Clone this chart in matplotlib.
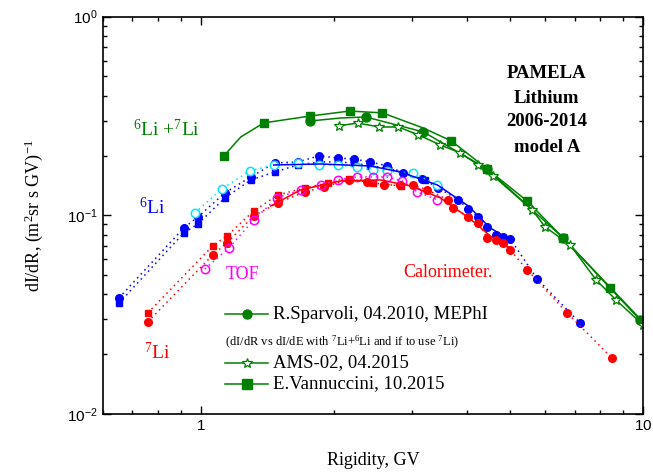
import numpy as np
import matplotlib.pyplot as plt
from matplotlib.ticker import FixedLocator, LogLocator, NullFormatter

plt.rcParams['font.family'] = 'Liberation Serif'
plt.rcParams['mathtext.fontset'] = 'custom'
plt.rcParams['mathtext.rm'] = 'Liberation Serif'
plt.rcParams['mathtext.it'] = 'Liberation Serif:italic'
plt.rcParams['mathtext.sf'] = 'Liberation Sans'

# ---- total Li (green) ----
# E.Vannuccini, 10.2015 (squares + model curve)
van_R = [1.127, 1.388, 1.762, 2.169, 2.575, 3.686, 4.446, 5.471, 6.598, 8.424]
van_F = [0.199, 0.292, 0.316, 0.335, 0.328, 0.237, 0.171, 0.118, 0.077, 0.0431]
van_line_R = [1.127, 1.231, 1.388, 1.762, 2.169, 2.575, 3.187, 3.686, 4.446, 5.471, 6.598, 8.424, 10.0]
van_line_F = [0.199, 0.248, 0.292, 0.316, 0.335, 0.328, 0.275, 0.237, 0.171, 0.118, 0.077, 0.0431, 0.0287]

# R.Sparvoli, 04.2010 (filled circles)
spa_R = [1.762, 2.358, 3.187, 4.446, 6.598, 9.845]
spa_F = [0.2985, 0.313, 0.263, 0.171, 0.077, 0.0298]
spa_line_R = [1.762, 2.071, 2.358, 3.187, 4.446, 6.598, 10.0]
spa_line_F = [0.2985, 0.309, 0.313, 0.263, 0.171, 0.077, 0.0291]

# AMS-02, 04.2015 (open stars)
ams_R = [2.049, 2.262, 2.535, 2.799, 3.106, 3.482, 3.863, 4.242, 4.587,
         5.616, 6.008, 6.842, 7.834, 8.690, 10.0]
ams_F = [0.2818, 0.2917, 0.2785, 0.2785, 0.254, 0.226, 0.2061, 0.1793, 0.1579,
         0.1065, 0.0874, 0.0710, 0.0473, 0.0375, 0.0281]

# ---- 6Li (blue) ----
li6_circ_R = [0.653, 0.915, 0.985, 1.133, 1.297, 1.469, 1.656, 1.847, 2.038, 2.215,
              2.419, 2.643, 2.873, 3.171, 3.446, 3.823, 4.027, 4.242, 4.446, 4.659,
              4.831, 5.010, 5.764, 7.207]
li6_circ_F = [0.0384, 0.0864, 0.0982, 0.1296, 0.1561, 0.1835, 0.1857, 0.199, 0.1945, 0.1922,
              0.1857, 0.1772, 0.1634, 0.1525, 0.1374, 0.1196, 0.1077, 0.0982, 0.0874, 0.0797,
              0.0779, 0.0761, 0.0478, 0.0287]
li6_sq_R = [0.653, 0.915, 0.985, 1.133, 1.297, 1.469, 1.656, 1.847, 2.038, 2.215,
            2.419, 2.643, 3.221]
li6_sq_F = [0.0362, 0.0815, 0.0905, 0.1224, 0.1507, 0.1653, 0.1793, 0.1857, 0.1857, 0.1835,
            0.1772, 0.1732, 0.1507]
li6_tof_R = [0.969, 1.115, 1.290, 1.462, 1.656, 1.847, 2.038, 2.250, 2.445, 2.630, 3.025, 3.428]
li6_tof_F = [0.1028, 0.1358, 0.1673, 0.1793, 0.1835, 0.1793, 0.1793, 0.1752, 0.1692, 0.1673,
             0.1634, 0.1422]
li6_line_R = [1.462, 1.866, 2.419, 2.828, 3.428, 4.027, 4.515, 5.010]
li6_line_F = [0.1793, 0.1814, 0.1772, 0.1653, 0.1422, 0.1115, 0.0864, 0.0752]

# ---- 7Li (red) ----
li7_circ_R = [0.759, 1.064, 1.145, 1.317, 1.492, 1.717, 1.895, 2.158, 2.382, 2.602,
              2.814, 3.025, 3.254, 3.629, 3.725, 4.027, 4.242, 4.446, 4.659, 4.831, 5.010,
              5.471, 6.736, 8.511]
li7_circ_F = [0.0291, 0.0632, 0.0726, 0.0993, 0.1155, 0.1311, 0.139, 0.1507, 0.1473, 0.1422,
              0.1422, 0.1422, 0.1342, 0.1196, 0.109, 0.0982, 0.0916, 0.0770, 0.0752, 0.0726,
              0.067, 0.0531, 0.0323, 0.0191]
li7_sq_R = [0.759, 1.064, 1.145, 1.317, 1.492, 1.717, 1.935, 2.158, 2.445, 2.830]
li7_sq_F = [0.0323, 0.0702, 0.0787, 0.1052, 0.1266, 0.1374, 0.1456, 0.1525, 0.1456, 0.1406]
li7_tof_R = [1.021, 1.157, 1.317, 1.485, 1.681, 1.866, 2.038, 2.250, 2.445, 2.630, 2.858,
             3.089, 3.428]
li7_tof_F = [0.0537, 0.0685, 0.0948, 0.1224, 0.1342, 0.1422, 0.1507, 0.1561, 0.1561, 0.1561,
             0.149, 0.1311, 0.1196]
li7_line_R = [1.439, 1.681, 2.070, 2.549, 2.979, 3.482, 4.069, 4.515, 5.010]
li7_line_F = [0.1115, 0.1342, 0.149, 0.1507, 0.1406, 0.1224, 0.0959, 0.0787, 0.0685]

GREEN = '#008000'
BLUE = '#0000ff'
CYAN = '#00e5ff'
RED = '#ff0000'
MAGENTA = '#ff00ff'
DOT = (0, (1, 2.5))

fig = plt.figure(figsize=(6.53, 4.73), dpi=100)
ax = fig.add_axes([0.1573, 0.1247, 0.8274, 0.84])

# dotted data series
ax.plot(li6_sq_R, li6_sq_F, ls=DOT, color=BLUE, lw=1.1, marker='s', ms=4.2, mec=BLUE, mfc=BLUE)
ax.plot(li6_circ_R, li6_circ_F, ls=DOT, color=BLUE, lw=1.1, marker='o', ms=5.5, mec=BLUE, mfc=BLUE)
ax.plot(li6_tof_R, li6_tof_F, ls=DOT, color=CYAN, lw=1.1, marker='o', ms=6, mec=CYAN, mfc='white', mew=1.1)
ax.plot(li7_sq_R, li7_sq_F, ls=DOT, color=RED, lw=1.1, marker='s', ms=4.2, mec=RED, mfc=RED)
ax.plot(li7_circ_R, li7_circ_F, ls=DOT, color=RED, lw=1.1, marker='o', ms=5.5, mec=RED, mfc=RED)
ax.plot(li7_tof_R, li7_tof_F, ls=DOT, color=MAGENTA, lw=1.1, marker='o', ms=6, mec=MAGENTA, mfc='none', mew=1.1)

# model curves
ax.plot(li6_line_R, li6_line_F, '-', color=BLUE, lw=1.1)
ax.plot(li7_line_R, li7_line_F, '-', color=RED, lw=1.1)

# total Li
ax.plot(van_line_R, van_line_F, '-', color=GREEN, lw=1.1)
ax.plot(van_R, van_F, 's', color=GREEN, ms=5.8)
ax.plot(spa_line_R, spa_line_F, '-', color=GREEN, lw=1.1)
ax.plot(spa_R, spa_F, 'o', color=GREEN, ms=6.5)
ax.plot(ams_R, ams_F, '-', color=GREEN, lw=1.1, marker='*', ms=7, mfc='white', mec=GREEN, mew=0.9)

ax.set_xscale('log')
ax.set_yscale('log')
ax.set_xlim(0.6, 10)
ax.set_ylim(0.01, 1)

ax.xaxis.set_major_locator(FixedLocator([1, 10]))
ax.set_xticklabels([r'$\mathsf{1}$', r'$\mathsf{10}$'])
ax.xaxis.set_minor_locator(LogLocator(base=10, subs=np.arange(2, 10)))
ax.xaxis.set_minor_formatter(NullFormatter())
ax.yaxis.set_major_locator(FixedLocator([0.01, 0.1, 1]))
ax.set_yticklabels([r'$\mathsf{10^{-2}}$', r'$\mathsf{10^{-1}}$', r'$\mathsf{10^{0}}$'])
ax.yaxis.set_minor_locator(LogLocator(base=10, subs=np.arange(2, 10)))
ax.yaxis.set_minor_formatter(NullFormatter())

ax.tick_params(which='both', direction='in', top=True, right=True, width=1.0, labelsize=11)
ax.tick_params(which='major', length=6)
ax.tick_params(which='minor', length=3)
for s in ax.spines.values():
    s.set_linewidth(1.2)

ax.set_xlabel('Rigidity, GV', fontsize=13, labelpad=14)
ax.set_ylabel(r'dI/dR, (m$^2$sr s GV)$^{-1}$', fontsize=13, labelpad=16)

# labels on the plot
ax.text(0.119, 0.715, r'$^6$Li +$^7$Li', color=GREEN, fontsize=14, ha='center', va='center', transform=ax.transAxes)
ax.text(0.091, 0.521, r'$^6$Li', color=BLUE, fontsize=14, ha='center', va='center', transform=ax.transAxes)
ax.text(0.258, 0.35, 'TOF', color=MAGENTA, fontsize=13, ha='center', va='center', transform=ax.transAxes)
ax.text(0.100, 0.156, r'$^7$Li', color=RED, fontsize=14, ha='center', va='center', transform=ax.transAxes)
ax.text(0.639, 0.355, 'Calorimeter.', color=RED, fontsize=13, ha='center', va='center', transform=ax.transAxes)
for txt, fy in [('PAMELA', 0.858), ('Lithium', 0.793), ('2006-2014', 0.735), ('model A', 0.672)]:
    ax.text(0.822, fy, txt, fontsize=13.5, fontweight='bold', ha='center', va='center', transform=ax.transAxes)

# hand-drawn legend
entries = [('o', 'R.Sparvoli, 04.2010, MEPhI', 0.2517),
           ('*', 'AMS-02, 04.2015', 0.1284),
           ('s', 'E.Vannuccini, 10.2015', 0.0755)]
for mk, label, fy in entries:
    ax.plot([0.2263, 0.3060], [fy, fy], '-', color=GREEN, lw=1.1, transform=ax.transAxes, clip_on=False)
    if mk == '*':
        ax.plot([0.2671], [fy], marker='*', ms=7, mfc='white', mec=GREEN, mew=0.9,
                transform=ax.transAxes, clip_on=False)
    else:
        ax.plot([0.2671], [fy], marker=mk, ms=6.5, color=GREEN, transform=ax.transAxes, clip_on=False)
    ax.text(0.3152, fy, label, fontsize=13.5, ha='left', va='center', transform=ax.transAxes)
ax.text(0.2263, 0.1812, r'(dI/dR vs dI/dE with $^7$Li+$^6$Li and if to use $^7$Li)', fontsize=9,
        ha='left', va='center', transform=ax.transAxes)

fig.savefig('out.png', dpi=100)
